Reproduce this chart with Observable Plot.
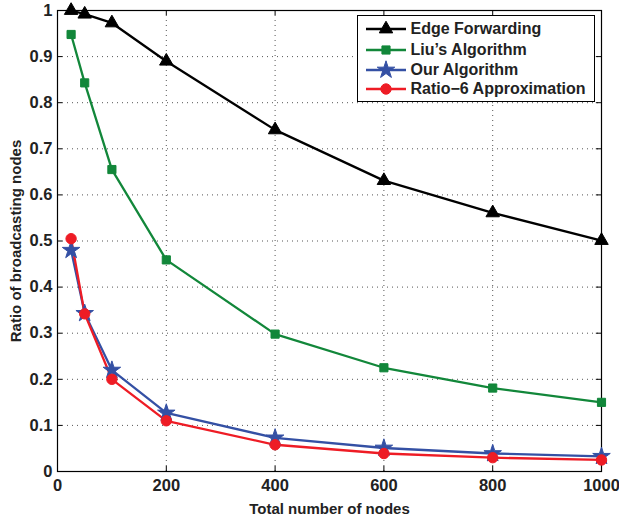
<!DOCTYPE html>
<html>
<head>
<meta charset="utf-8">
<script src="https://cdn.jsdelivr.net/npm/d3@7"></script>
<script src="https://cdn.jsdelivr.net/npm/@observablehq/plot@0.6"></script>
<style>
  body { margin: 0; background: #fff; }
  #wrap { position: relative; width: 619px; height: 518px; font-family: "Liberation Sans", Arial, Helvetica, sans-serif; }
  #wrap svg text { font-weight: bold; fill: #222; }
  #legend { position: absolute; left: 357px; top: 15px; width: 238px; height: 87px; border: 1.5px solid #000; background: #fff; box-sizing: border-box; }
  #legend .row { position: absolute; left: 0; height: 20px; display: flex; align-items: center; }
  #legend .row span { font-weight: bold; font-size: 16px; color: #222; margin-left: 5px; white-space: nowrap; font-family: "Liberation Sans", Arial, sans-serif; }
</style>
</head>
<body>
<div id="wrap"></div>
<script>
const xValues = [25, 50, 100, 200, 400, 600, 800, 1000];
const edgeForwarding = [1.0, 0.992, 0.973, 0.89, 0.741, 0.631, 0.561, 0.501];
const liuAlgorithm = [0.948, 0.843, 0.655, 0.459, 0.298, 0.225, 0.181, 0.15];
const ourAlgorithm = [0.48, 0.343, 0.22, 0.127, 0.073, 0.051, 0.039, 0.033];
const ratio6 = [0.505, 0.342, 0.2, 0.11, 0.058, 0.039, 0.030, 0.025];
const seriesNames = ["Edge Forwarding", "Liu\u2019s Algorithm", "Our Algorithm", "Ratio\u22126 Approximation"];
const seriesColors = ["#000000", "#12873a", "#3450a4", "#ee1c25"];
const seriesSymbols = ["triangle", "square", "star", "circle"];
const seriesR = [5, 4.6, 5.5, 5.2];
const xTicks = [0, 200, 400, 600, 800, 1000];
const yTicks = [0, 0.1, 0.2, 0.3, 0.4, 0.5, 0.6, 0.7, 0.8, 0.9, 1];
const xLabel = "Total number of nodes";
const yLabel = "Ratio of broadcasting nodes";

const allSeries = [edgeForwarding, liuAlgorithm, ourAlgorithm, ratio6];
const rows = [];
allSeries.forEach((vals, i) => vals.forEach((v, j) => rows.push({x: xValues[j], y: v, s: i})));

const marks = [
  Plot.gridX(xTicks.slice(1, -1), {stroke: "#555", strokeOpacity: 1, strokeDasharray: "1,4", strokeWidth: 1}),
  Plot.gridY(yTicks.slice(1, -1), {stroke: "#555", strokeOpacity: 1, strokeDasharray: "1,4", strokeWidth: 1}),
  Plot.ruleX(xTicks, {x: d => d, y1: 0, y2: 0.011, stroke: "#000"}),
  Plot.ruleX(xTicks, {x: d => d, y1: 1, y2: 0.989, stroke: "#000"}),
  Plot.ruleY(yTicks, {y: d => d, x1: 0, x2: 9.5, stroke: "#000"}),
  Plot.ruleY(yTicks, {y: d => d, x1: 1000, x2: 990.5, stroke: "#000"}),
  Plot.frame({stroke: "#000", strokeWidth: 1.2}),
  Plot.axisX({ticks: xTicks, tickSize: 0, tickPadding: 8, label: null, tickFormat: d => String(d)}),
  Plot.axisY({ticks: yTicks, tickSize: 0, tickPadding: 5, label: null, tickFormat: d => String(+d.toFixed(1))}),
  Plot.axisX({ticks: [], tickSize: 0, label: xLabel, labelAnchor: "center", labelOffset: 42, labelArrow: "none"}),
  Plot.axisY({ticks: [], tickSize: 0, label: yLabel, labelAnchor: "center", labelOffset: 47, labelArrow: "none"})
];
allSeries.forEach((vals, i) => {
  const data = rows.filter(r => r.s === i);
  marks.push(Plot.line(data, {x: "x", y: "y", stroke: seriesColors[i], strokeWidth: 2.3}));
});
allSeries.forEach((vals, i) => {
  const data = rows.filter(r => r.s === i);
  marks.push(Plot.dot(data, {x: "x", y: "y", symbol: () => seriesSymbols[i], r: seriesR[i], fill: seriesColors[i], stroke: seriesColors[i], strokeWidth: 1}));
});

const chart = Plot.plot({
  width: 619,
  height: 518,
  marginLeft: 57,
  marginRight: 18,
  marginTop: 10,
  marginBottom: 47,
  x: {domain: [0, 1000], label: null},
  y: {domain: [0, 1], label: null},
  symbol: {type: "identity"},
  style: {fontFamily: "'Liberation Sans', Arial, Helvetica, sans-serif", background: "#fff", overflow: "visible"},
  marks
});
d3.select(chart).selectAll("text").each(function() {
  const txt = this.textContent;
  const size = (txt === xLabel || txt === yLabel) ? "15px" : "16.5px";
  this.style.fontSize = size;
  this.setAttribute("font-size", size);
});
const wrap = document.getElementById("wrap");
wrap.appendChild(chart);

// Legend
const legend = document.createElement("div");
legend.id = "legend";
const rowCenters = [14, 35, 55, 74];
const symMap = {triangle: d3.symbolTriangle, square: d3.symbolSquare, star: d3.symbolStar, circle: d3.symbolCircle};
seriesNames.forEach((name, i) => {
  const row = document.createElement("div");
  row.className = "row";
  row.style.top = (rowCenters[i] - 1.5 - 10) + "px";
  row.style.left = "7.5px";
  const sw = d3.create("svg").attr("width", 40).attr("height", 20);
  sw.append("line").attr("x1", 0).attr("x2", 40).attr("y1", 10).attr("y2", 10).attr("stroke", seriesColors[i]).attr("stroke-width", 2.3);
  const r = seriesR[i];
  sw.append("path").attr("transform", "translate(20,10)")
    .attr("d", d3.symbol(symMap[seriesSymbols[i]], Math.PI * r * r)())
    .attr("fill", seriesColors[i]).attr("stroke", seriesColors[i]);
  row.appendChild(sw.node());
  const t = document.createElement("span");
  t.textContent = name;
  row.appendChild(t);
  legend.appendChild(row);
});
wrap.appendChild(legend);
</script>
</body>
</html>
